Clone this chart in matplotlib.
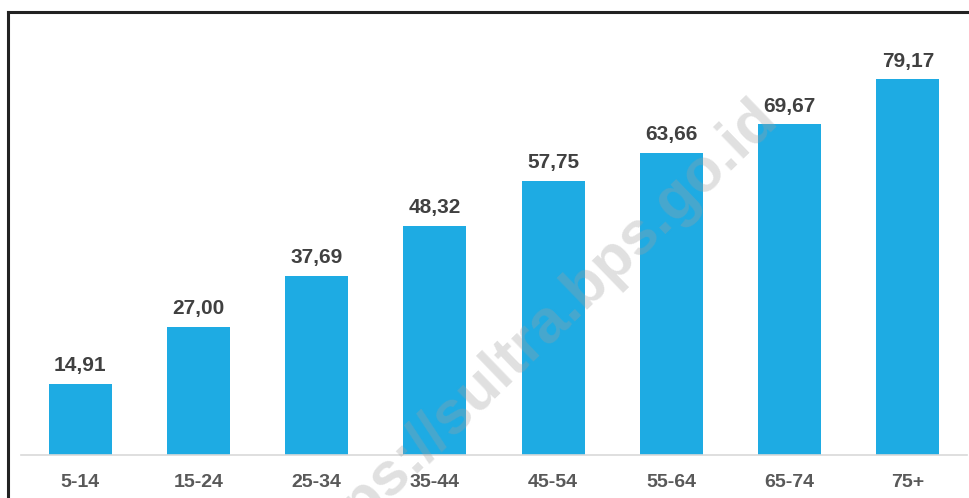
import matplotlib.pyplot as plt
from matplotlib.lines import Line2D

# Persentase per kelompok umur
kelompok_umur = ['5-14', '15-24', '25-34', '35-44', '45-54', '55-64', '65-74', '75+']
persentase = [14.91, 27.00, 37.69, 48.32, 57.75, 63.66, 69.67, 79.17]

plt.rcParams['font.family'] = ['Liberation Sans', 'DejaVu Sans']

fig = plt.figure(figsize=(9.70, 4.98), dpi=100)
ax = fig.add_axes([21 / 970, 43.5 / 498, 946 / 970, 426.3 / 498])

x = range(len(kelompok_umur))
bars = ax.bar(x, persentase, width=0.533, color='#1eabe3', zorder=2)

for xi, val in zip(x, persentase):
    ax.text(xi, val + 1.8, f'{val:.2f}'.replace('.', ','), ha='center', va='bottom',
            fontsize=15, fontweight='bold', color='#404040')

ax.set_xlim(-0.5, len(kelompok_umur) - 0.5)
ax.set_ylim(0, 90)
ax.set_xticks(list(x))
ax.set_xticklabels(kelompok_umur, fontsize=14, fontweight='bold', color='#595959')
ax.tick_params(axis='x', length=0, pad=14)
ax.set_yticks([])
for side in ['top', 'right', 'left']:
    ax.spines[side].set_visible(False)
ax.spines['bottom'].set_color('#d9d9d9')
ax.spines['bottom'].set_linewidth(1.2)

# frame lines at the top and left
fig.add_artist(Line2D([8 / 970, 8 / 970], [0, 1 - 12 / 498], transform=fig.transFigure,
                      color='#222222', linewidth=2.2))
fig.add_artist(Line2D([8 / 970, 1], [1 - 12 / 498, 1 - 12 / 498], transform=fig.transFigure,
                      color='#222222', linewidth=2.2))

# watermark
fig.text(532 / 970, 1 - 338 / 498, 'https://sultra.bps.go.id', rotation=44,
         ha='center', va='center', fontsize=44, fontweight='bold',
         family=['Liberation Sans', 'DejaVu Sans'], color='#a0a0a0', alpha=0.32,
         zorder=10)

fig.savefig('out.png', dpi=100)
